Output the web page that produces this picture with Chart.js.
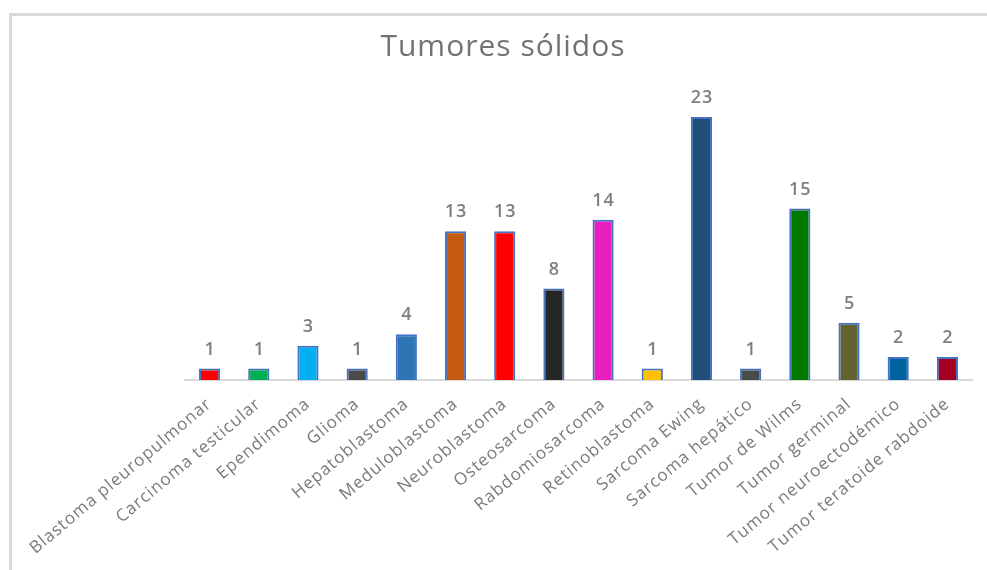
<!DOCTYPE html>
<html>
<head>
<meta charset="utf-8">
<script src="https://cdn.jsdelivr.net/npm/chart.js@4"></script>
<style>
  html, body { margin: 0; padding: 0; background: #fff; }
  #frame {
    position: absolute; left: 9px; top: 13px; right: 0; bottom: 0;
    border-top: 3px solid #d9d9d9; border-left: 3px solid #d9d9d9;
  }
  #chart { position: absolute; left: 0; top: 0; }
</style>
</head>
<body>
<div id="frame"></div>
<canvas id="chart" width="987" height="570"></canvas>
<script>
const categories = [
  'Blastoma pleuropulmonar', 'Carcinoma testicular', 'Ependimoma', 'Glioma',
  'Hepatoblastoma', 'Meduloblastoma', 'Neuroblastoma', 'Osteosarcoma',
  'Rabdomiosarcoma', 'Retinoblastoma', 'Sarcoma Ewing', 'Sarcoma hepático',
  'Tumor de Wilms', 'Tumor germinal', 'Tumor neuroectodémico', 'Tumor teratoide rabdoide'
];
const cases = [1, 1, 3, 1, 4, 13, 13, 8, 14, 1, 23, 1, 15, 5, 2, 2];
const barColors = [
  '#ff0000', '#00b050', '#00b0f0', '#4a4a4a', '#2e75b6', '#c55a11', '#ff0000', '#262626',
  '#ea1dbe', '#ffc000', '#1f4e79', '#4a4a4a', '#007800', '#636331', '#00629e', '#a50021'
];

// the original text is set a little wider than Open Sans
const spacing = {
  id: 'spacing',
  beforeUpdate(chart) { chart.ctx.letterSpacing = '1px'; },
  beforeDraw(chart) { chart.ctx.letterSpacing = '1px'; },
};

// value labels above each bar
const valueLabels = {
  id: 'valueLabels',
  afterDatasetsDraw(chart) {
    const ctx = chart.ctx;
    const meta = chart.getDatasetMeta(0);
    ctx.save();
    ctx.letterSpacing = '1px';
    ctx.font = '600 18px "Open Sans"';
    ctx.fillStyle = '#7f7f7f';
    ctx.textAlign = 'center';
    ctx.textBaseline = 'bottom';
    meta.data.forEach((bar, i) => {
      ctx.fillText(String(cases[i]), bar.x + 0.5, bar.y - 10);
    });
    ctx.restore();
  }
};

new Chart(document.getElementById('chart'), {
  type: 'bar',
  data: {
    labels: categories,
    datasets: [{
      data: cases,
      backgroundColor: barColors,
      borderColor: '#4472c4',
      borderWidth: 2,
      barPercentage: 0.43,
      categoryPercentage: 1,
    }],
  },
  options: {
    responsive: false,
    animation: false,
    layout: { padding: { left: 34, right: 15 } },
    plugins: {
      legend: { display: false },
      tooltip: { enabled: false },
      title: {
        display: true,
        text: 'Tumores sólidos',
        color: '#737373',
        font: { family: '"Open Sans"', size: 30, weight: 'normal' },
        padding: { top: 29, bottom: 29 },
      },
    },
    scales: {
      x: {
        grid: { display: false, drawTicks: false },
        border: { display: true, color: '#d9d9d9', width: 2 },
        ticks: {
          color: '#7a7a7a',
          font: { family: '"Open Sans"', size: 17 },
          minRotation: 40,
          maxRotation: 40,
          padding: 14,
          autoSkip: false,
        },
        afterFit: scale => { scale.height = 190; },
      },
      y: {
        min: 0,
        max: 25,
        grid: { display: false },
        border: { display: false },
        ticks: { display: false },
        afterFit: scale => { scale.width = 151; },
      },
    },
  },
  plugins: [spacing, valueLabels],
});
</script>
</body>
</html>
